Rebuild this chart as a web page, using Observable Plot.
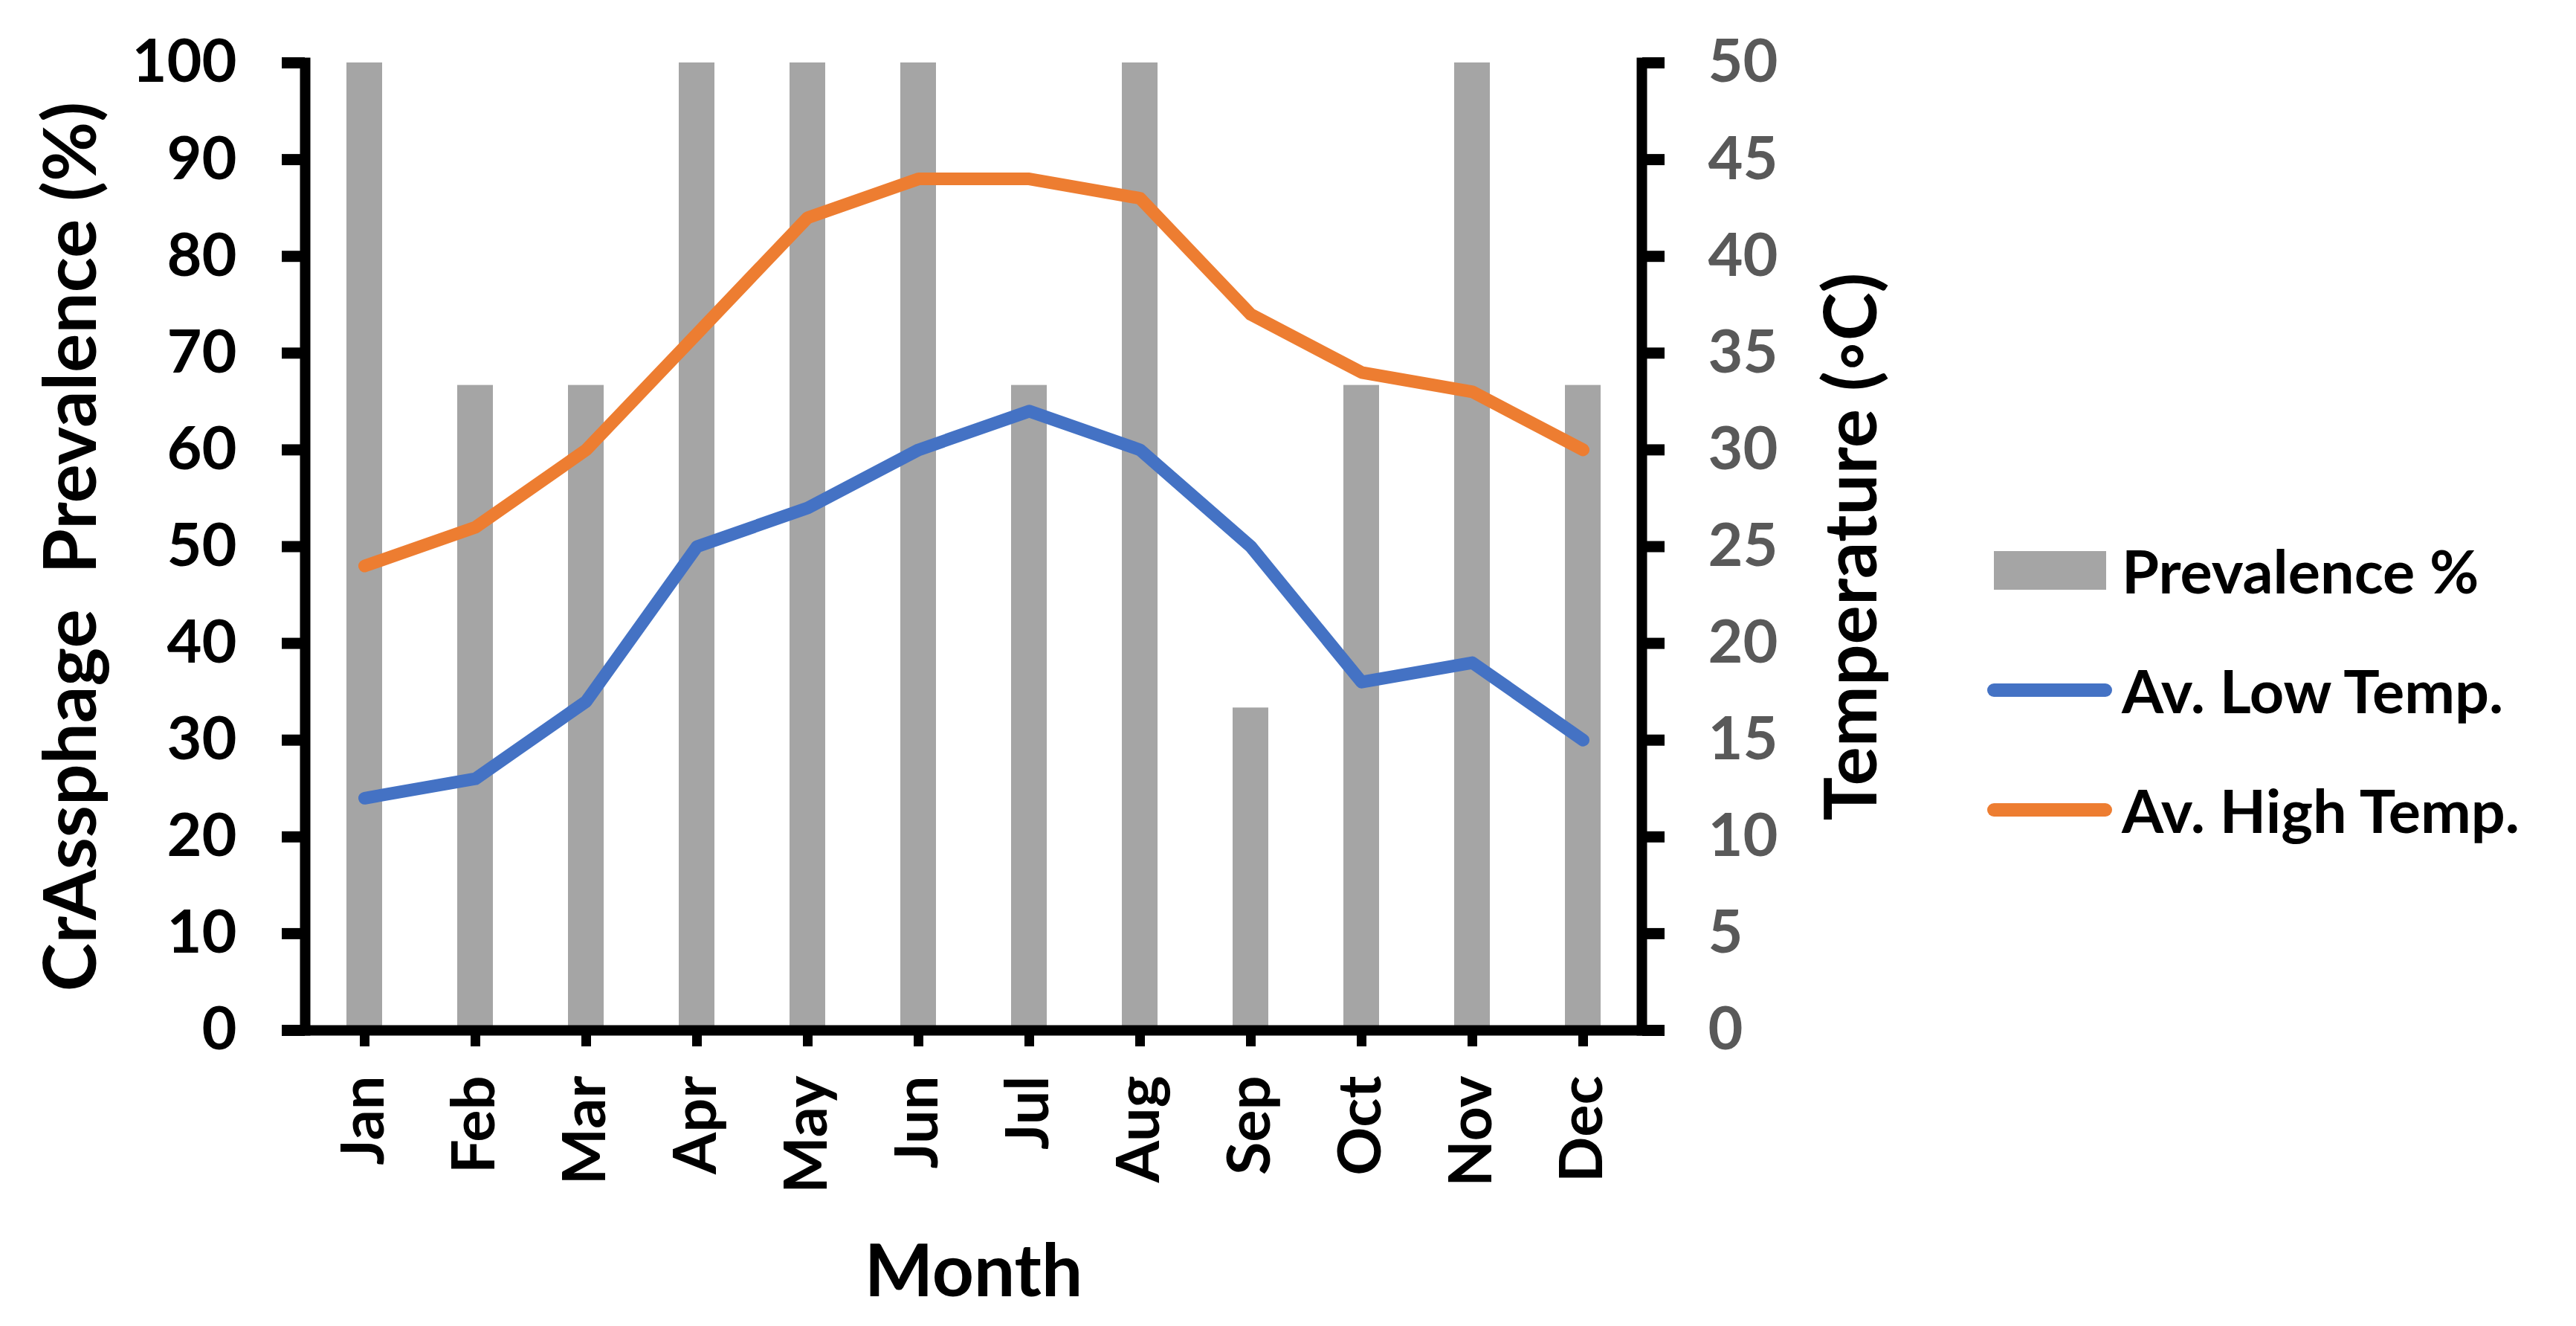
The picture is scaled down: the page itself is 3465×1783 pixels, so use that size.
<!DOCTYPE html>
<html>
<head>
<meta charset="utf-8">
<script src="https://cdn.jsdelivr.net/npm/d3@7"></script>
<script src="https://cdn.jsdelivr.net/npm/@observablehq/plot@0.6"></script>
<style>
  html, body { margin: 0; padding: 0; background: #fff; }
  #wrap { position: relative; width: 3465px; height: 1783px; font-family: Lato, "Open Sans", sans-serif; font-weight: bold; }
  #legend { position: absolute; left: 2673px; top: 686px; }
  .row { display: flex; align-items: center; height: 161px; }
  .sw { width: 181px; height: 60px; position: relative; }
  .txt { font-size: 81px; color: #000; white-space: nowrap; line-height: 1; }
</style>
</head>
<body>
<div id="wrap"></div>
<script>
// ---- data ----
const months = ["Jan","Feb","Mar","Apr","May","Jun","Jul","Aug","Sep","Oct","Nov","Dec"];
const prevalence = [100, 66.67, 66.67, 100, 100, 100, 66.67, 100, 33.33, 66.67, 100, 66.67];
const lowTemp  = [12, 13, 17, 25, 27, 30, 32, 30, 25, 18, 19, 15];
const highTemp = [24, 26, 30, 36, 42, 44, 44, 43, 37, 34, 33, 30];
const leftTicks = [0, 10, 20, 30, 40, 50, 60, 70, 80, 90, 100];
const rightTicks = [0, 5, 10, 15, 20, 25, 30, 35, 40, 45, 50];
const seriesNames = ["Prevalence %", "Av. Low Temp.", "Av. High Temp."];
const colors = ["#A5A5A5", "#4472C4", "#ED7D31"];
const yTitle = "CrAssphage  Prevalence (%)";
const y2Title = "Temperature (\u25E6C)";
const xTitle = "Month";

const tempScale = 100 / 50; // right axis 0-50 maps onto left axis 0-100
const table = months.map((m, i) => ({month: m, prev: prevalence[i], low: lowTemp[i] * tempScale, high: highTemp[i] * tempScale}));

const FONT = "Lato, 'Open Sans', sans-serif";

const chart = Plot.plot({
  width: 3465,
  height: 1783,
  marginLeft: 410,
  marginRight: 1257,
  marginTop: 84,
  marginBottom: 398,
  style: {fontFamily: FONT, fontWeight: "bold", background: "white", overflow: "visible"},
  x: {type: "band", domain: months, paddingInner: 0.68, paddingOuter: 0.34},
  y: {domain: [0, 100]},
  marks: [
    Plot.barY(table, {x: "month", y: "prev", fill: colors[0]}),
    Plot.lineY(table, {x: "month", y: "low", stroke: colors[1], strokeWidth: 17, strokeLinecap: "round", strokeLinejoin: "round"}),
    Plot.lineY(table, {x: "month", y: "high", stroke: colors[2], strokeWidth: 17, strokeLinecap: "round", strokeLinejoin: "round"}),
    Plot.frame({anchor: "left", stroke: "black", strokeWidth: 14}),
    Plot.frame({anchor: "right", stroke: "black", strokeWidth: 14}),
    Plot.frame({anchor: "bottom", stroke: "black", strokeWidth: 14}),
    Plot.axisY(leftTicks, {anchor: "left", tickSize: 31, tickPadding: 61, strokeWidth: 15, fontSize: 81, fontWeight: "bold", fontFamily: FONT, color: "black", label: null}),
    Plot.axisY(rightTicks.map(t => t * tempScale), {anchor: "right", tickSize: 30, tickPadding: 59, strokeWidth: 15, fontSize: 81, fontWeight: "bold", fontFamily: FONT, stroke: "black", fill: "#595959", tickFormat: d => String(d / tempScale), label: null}),
    Plot.axisX({tickRotate: -90, tickSize: 22, tickPadding: 39, strokeWidth: 13, fontSize: 81, fontWeight: "bold", fontFamily: FONT, color: "black", label: null}),
    Plot.text([yTitle], {frameAnchor: "left", dx: -313, rotate: -90, textAnchor: "middle", fontSize: 98, fontWeight: "bold", fontFamily: FONT, fill: "black", lineAnchor: "middle"}),
    Plot.text([y2Title], {frameAnchor: "right", dx: 284, rotate: -90, textAnchor: "middle", fontSize: 98, fontWeight: "bold", fontFamily: FONT, fill: "black", lineAnchor: "middle"}),
    Plot.text([xTitle], {frameAnchor: "bottom", dy: 326, fontSize: 98, fontWeight: "bold", fontFamily: FONT, fill: "black", lineAnchor: "middle"})
  ]
});

const wrap = document.getElementById("wrap");
wrap.appendChild(chart);

// legend
const legend = document.createElement("div");
legend.id = "legend";
seriesNames.forEach((name, i) => {
  const row = document.createElement("div");
  row.className = "row";
  const sw = document.createElement("div");
  sw.className = "sw";
  const mark = document.createElement("div");
  mark.style.position = "absolute";
  mark.style.background = colors[i];
  if (i === 0) {
    mark.style.left = "9px"; mark.style.width = "151px"; mark.style.top = "4px"; mark.style.height = "52px";
  } else {
    mark.style.left = "0px"; mark.style.width = "168px"; mark.style.top = "21px"; mark.style.height = "18px"; mark.style.borderRadius = "9px";
  }
  sw.appendChild(mark);
  const t = document.createElement("div");
  t.className = "txt";
  t.textContent = name;
  row.appendChild(sw);
  row.appendChild(t);
  legend.appendChild(row);
});
wrap.appendChild(legend);
</script>
</body>
</html>
